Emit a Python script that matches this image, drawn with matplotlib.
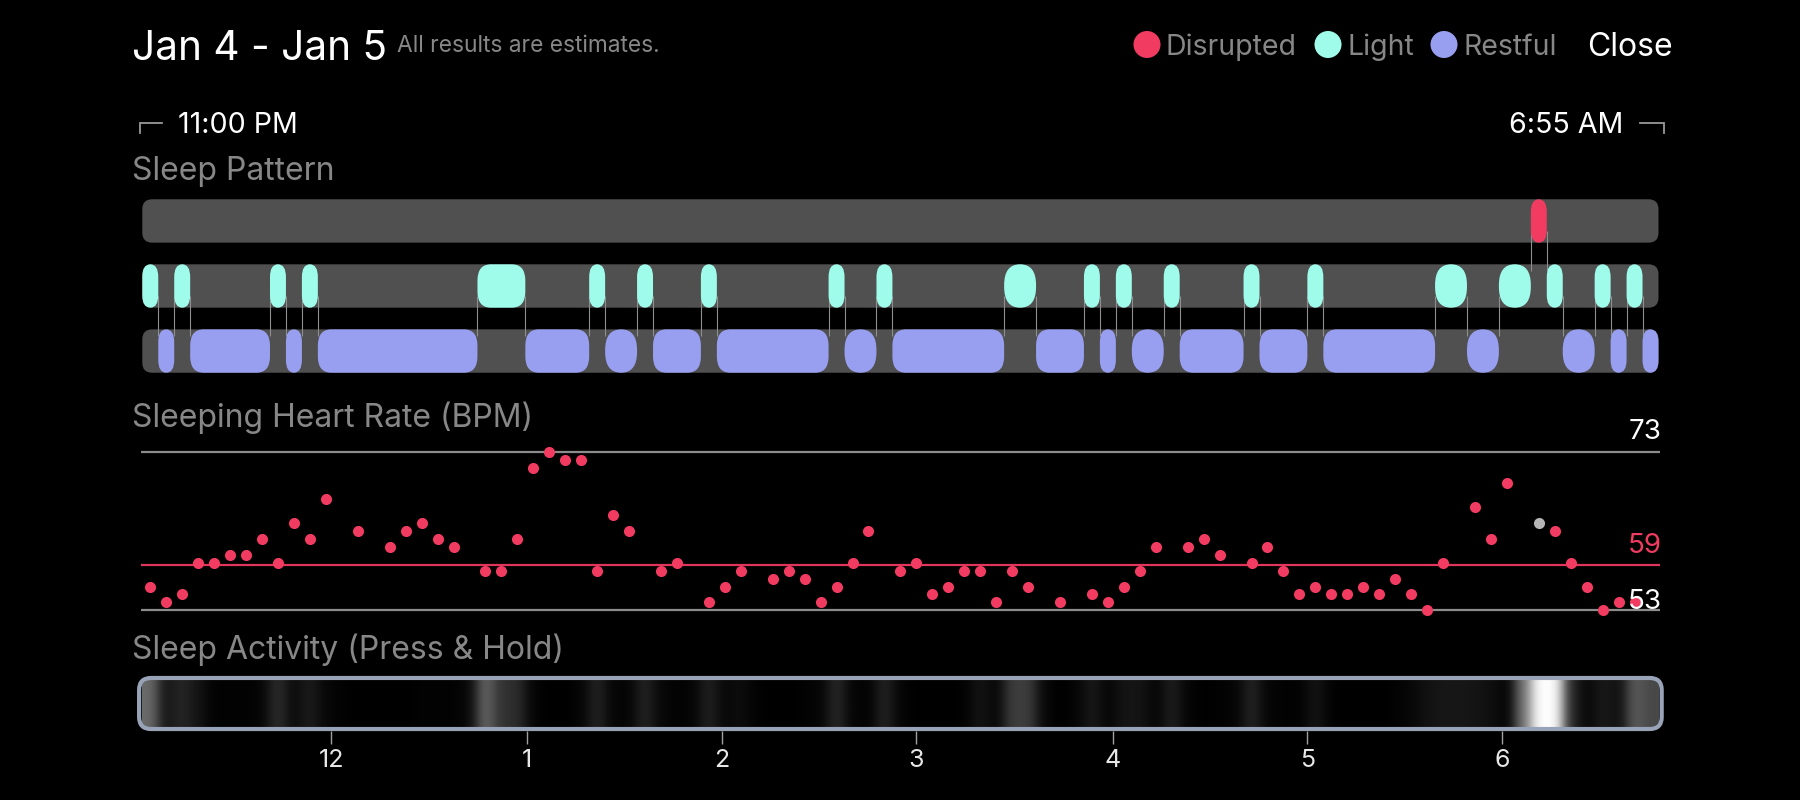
import numpy as np
import matplotlib
matplotlib.use('Agg')
import matplotlib.pyplot as plt
from matplotlib.patches import FancyBboxPatch, Ellipse

plt.rcParams['font.family'] = ['Inter', 'DejaVu Sans']

# ------------------------------------------
# Data (x positions are 5 minute slots after 11:00 PM)
# ------------------------------------------
disrupted = [(87, 88)]
light = [(0, 1), (2, 3), (8, 9), (10, 11), (21, 24), (28, 29), (31, 32), (35, 36), (43, 44), (46, 47),
         (54, 56), (59, 60), (61, 62), (64, 65), (69, 70), (73, 74), (81, 83), (85, 87), (88, 89), (91, 92), (93, 94)]
restful = [(1, 2), (3, 8), (9, 10), (11, 21), (24, 28), (29, 31), (32, 35), (36, 43), (44, 46), (47, 54),
           (56, 59), (60, 61), (62, 64), (65, 69), (70, 73), (74, 81), (83, 85), (89, 91), (92, 93), (94, 95)]

hr_slots = [0, 1, 2, 3, 4, 5, 6, 7, 8, 9, 10, 11, 13, 15, 16, 17, 18, 19, 21, 22, 23, 24, 25, 26, 27, 28, 29, 30,
            32, 33, 35, 36, 37, 39, 40, 41, 42, 43, 44, 45, 47, 48, 49, 50, 51, 52, 53, 54, 55, 57, 59, 60, 61, 62,
            63, 65, 66, 67, 69, 70, 71, 72, 73, 74, 75, 76, 77, 78, 79, 80, 81, 83, 84, 85, 87, 88, 89, 90, 91, 92, 93]
hr_bpm = [56, 54, 55, 59, 59, 60, 60, 62, 59, 64, 62, 67, 63, 61, 63, 64, 62, 61, 58, 58, 62, 71, 73, 72, 72, 58, 65, 63,
          58, 59, 54, 56, 58, 57, 58, 57, 54, 56, 59, 63, 58, 59, 55, 56, 58, 58, 54, 58, 56, 54, 55, 54, 56, 58,
          61, 61, 62, 60, 59, 61, 58, 55, 56, 55, 55, 56, 55, 57, 55, 53, 59, 66, 62, 69, 64, 63, 59, 56, 53, 54, 54]
hr_max = 73
hr_avg = 58.67
hr_min = 53
disrupted_hr_slot = 87

activity = [.42, .08, .15, .08, .01, .01, .01, .02, .18, .04, .11, .03, .01, .0, .0, .0, .0, .01, .01, .01, .03,
            .4, .2, .17, .02, .0, .0, .02, .14, .02, .02, .14, .03, .01, .02, .13, .03, .05, .01, .0, .0, .01, .02,
            .16, .02, .01, .14, .02, .0, .0, .0, .01, .08, .02, .24, .24, .03, .0, .02, .1, .02, .08, .08, .02,
            .12, .02, .0, .01, .02, .14, .02, .01, .01, .08, .01, .0, .0, .0, .01, .03, .07, .09, .09, .08, .06,
            .01, .45, 1.0, 1.0, .15, .03, .1, .06, .36, .28]

hour_ticks = [11.85, 24.08, 36.3, 48.5, 60.8, 73.0, 85.2]
hour_labels = ['12', '1', '2', '3', '4', '5', '6']

legend_names = ['Disrupted', 'Light', 'Restful']

RED = '#F23B60'
MINT = '#9FFCEB'
PERIWINKLE = '#989FF0'
BAND = '#505050'
GREY_TEXT = '#878787'
GREY_LINE = '#8C8C8C'

W, H = 1800, 800
X0, SLOT_PX = 142.3, 15.96


def add_axes(left, top, right, bottom):
    ax = fig.add_axes([left / W, 1 - bottom / H, (right - left) / W, (bottom - top) / H])
    ax.set_facecolor('none')
    ax.set_xlim((left - X0) / SLOT_PX, (right - X0) / SLOT_PX)
    return ax


def label(x, y, s, size, color='white', ha='left', **kw):
    fig.text(x / W, 1 - y / H, s, fontsize=size, color=color, ha=ha, va='baseline', **kw)


def pill(ax, start, end, row, color, height, aspect):
    # corners are taller than wide, narrow segments end up as ovals
    w = end - start
    if w == 1:
        radius, stretch = 0.5, 1.6
    elif w == 2:
        radius, stretch = 1.0, 1.3
    else:
        radius, stretch = 0.85, 1.2
    ax.add_patch(FancyBboxPatch((start, row - height / 2), w, height, boxstyle=f'round,pad=0,rounding_size={radius}',
                                mutation_aspect=aspect * stretch, fc=color, ec='none', zorder=3))


fig = plt.figure(figsize=(W / 100, H / 100), dpi=100, facecolor='black')

# ------------------------------------------
# Header
# ------------------------------------------
label(132, 60, 'Jan 4 - Jan 5', 29.2)
label(397, 52.5, 'All results are estimates.', 16.4, GREY_TEXT)
label(178, 133, '11:00 PM', 20.6)
label(1623, 133, '6:55 AM', 20.6, ha='right')
label(132, 180, 'Sleep Pattern', 23, GREY_TEXT)
label(132, 427, 'Sleeping Heart Rate (BPM)', 23, GREY_TEXT)
label(132, 659, 'Sleep Activity (Press & Hold)', 23, GREY_TEXT)

# legend
overlay = fig.add_axes([0, 0, 1, 1])
overlay.set_xlim(0, W)
overlay.set_ylim(H, 0)
overlay.axis('off')
for cx, c in zip([1147, 1328, 1444], [RED, MINT, PERIWINKLE]):
    overlay.add_patch(Ellipse((cx, 44.5), 27, 27, fc=c, ec='none'))
for x, name in zip([1166, 1347, 1464], legend_names):
    label(x, 55, name, 20.5, GREY_TEXT)
label(1587, 55.5, 'Close', 23)

# corner brackets next to the start / end times
overlay.plot([139.5, 139.5, 161.5], [133, 122.5, 122.5], color='#999999', lw=1.3, solid_joinstyle='miter')
overlay.plot([1640, 1663.5, 1663.5], [122.5, 122.5, 133], color='#999999', lw=1.3, solid_joinstyle='miter')

# ------------------------------------------
# Sleep pattern bands
# ------------------------------------------
ax_pat = add_axes(130, 199.3, 1680, 372.7)
ax_pat.set_ylim(2.333, -0.333)
ax_pat.axis('off')
bar_h = 0.667
asp = SLOT_PX / 65.2

for row in range(3):
    ax_pat.add_patch(FancyBboxPatch((0, row - bar_h / 2), 95, bar_h, boxstyle='round,pad=0,rounding_size=0.62',
                                    mutation_aspect=asp, fc=BAND, ec='none', zorder=1))

# thin connector lines where the sleep state changes
segments = sorted([(s, e, 0) for s, e in disrupted] + [(s, e, 1) for s, e in light] + [(s, e, 2) for s, e in restful])
for a, b in zip(segments[:-1], segments[1:]):
    upper = min(a[2], b[2])
    ax_pat.vlines(a[1], upper + 0.15, upper + 1 - bar_h / 2 + 0.1, color='#8f8f8f', lw=0.8, zorder=2)

for row, segs, c in [(0, disrupted, RED), (1, light, MINT), (2, restful, PERIWINKLE)]:
    for s, e in segs:
        pill(ax_pat, s, e, row, c, bar_h, asp)

# ------------------------------------------
# Sleeping heart rate
# ------------------------------------------
ax_hr = add_axes(130, 440, 1680, 625)
ax_hr.set_ylim(hr_min - (625 - 610.3) / 7.93, hr_max + (451.7 - 440) / 7.93)
ax_hr.axis('off')
ax_hr.hlines([hr_max, hr_min], -0.08, 95.1, color=GREY_LINE, lw=1.6, zorder=1)
ax_hr.hlines(hr_avg, -0.08, 95.1, color='#E0365C', lw=1.6, zorder=1)

slots = np.array(hr_slots) + 0.5
bpm = np.array(hr_bpm)
grey = np.array(hr_slots) == disrupted_hr_slot
ax_hr.plot(slots[~grey], bpm[~grey], 'o', color=RED, ms=8, mec='none', zorder=2, clip_on=False)
ax_hr.plot(slots[grey], bpm[grey], 'o', color='#B5B5B5', ms=8, mec='none', zorder=2, clip_on=False)

label(1662, 439, str(hr_max), 20, ha='right')
label(1662, 553, '59', 20, RED, ha='right')
label(1662, 609, str(hr_min), 20, ha='right', zorder=5)

# ------------------------------------------
# Sleep activity strip
# ------------------------------------------
ax_act = add_axes(130, 676, 1680, 731)
ax_act.set_ylim(0, 1)
for side in ax_act.spines.values():
    side.set_visible(False)
ax_act.set_yticks([])
ax_act.set_xticks(hour_ticks)
ax_act.set_xticklabels(hour_labels)
ax_act.tick_params(axis='x', length=9, width=1, color='#A0A0A0', labelcolor='#E8E8E8', labelsize=18, pad=4)

xl = ax_act.get_xlim()
frame = FancyBboxPatch((-0.2, 0.036), 95.4, 0.928, boxstyle='round,pad=0,rounding_size=0.75',
                       mutation_aspect=SLOT_PX / 55, fc='none', ec='#98A3B8', lw=3, zorder=3, clip_on=False)
frame_clip = FancyBboxPatch((-0.2, 0.036), 95.4, 0.928, boxstyle='round,pad=0,rounding_size=0.75',
                            mutation_aspect=SLOT_PX / 55, transform=ax_act.transData, fc='none', ec='none')
ax_act.add_patch(frame_clip)
img = ax_act.imshow(np.array(activity)[None, :], cmap='gray', vmin=0, vmax=1, aspect='auto', extent=(0, 95, 0, 1),
                    interpolation='gaussian', zorder=2)
img.set_clip_path(frame_clip)
ax_act.add_patch(frame)
ax_act.set_xlim(xl)
ax_act.set_ylim(0, 1)

fig.savefig('out.png', dpi=100, facecolor='black')
